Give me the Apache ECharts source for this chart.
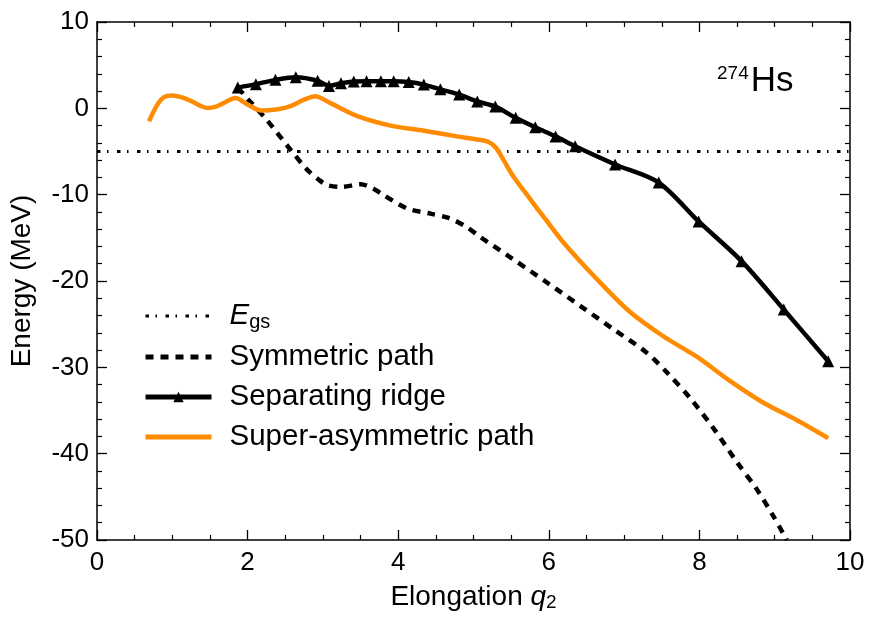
<!DOCTYPE html>
<html>
<head>
<meta charset="utf-8">
<script src="https://cdn.jsdelivr.net/npm/echarts@6/dist/echarts.min.js"></script>
<style>
html,body{margin:0;padding:0;background:#fff;}
#main{width:869px;height:619px;}
</style>
</head>
<body>
<div id="main"></div>
<script>
// ---- Data ----
var egsQ = [0, 10];
var egsE = [-5.0, -5.0];

var symQ = [1.87, 2.0, 2.26, 2.57, 2.79, 2.95, 3.06, 3.25, 3.5, 3.65, 3.77, 4.12, 4.43, 4.67, 4.9, 5.09, 5.53, 5.98, 6.42, 6.86, 7.3, 7.57, 7.88, 8.19, 8.5, 8.76, 8.98, 9.16];
var symE = [2.4, 1.1, -1.4, -4.8, -7.1, -8.3, -8.9, -9.1, -8.8, -9.2, -9.85, -11.6, -12.2, -12.7, -13.7, -14.9, -17.5, -20.2, -22.9, -25.6, -28.3, -30.6, -33.6, -37.1, -41.0, -44.1, -47.2, -50.0];

var ridgeQ = [1.87, 2.11, 2.37, 2.64, 2.93, 3.08, 3.24, 3.41, 3.58, 3.77, 3.94, 4.14, 4.34, 4.56, 4.81, 5.05, 5.29, 5.56, 5.82, 6.09, 6.35, 6.88, 7.46, 7.99, 8.56, 9.12, 9.71];
var ridgeE = [2.4, 2.8, 3.3, 3.6, 3.2, 2.6, 2.9, 3.1, 3.15, 3.15, 3.15, 3.05, 2.75, 2.2, 1.6, 0.8, 0.2, -1.1, -2.2, -3.25, -4.4, -6.5, -8.6, -13.1, -17.7, -23.3, -29.3];

var asymQ = [0.69, 0.8, 0.89, 1.0, 1.12, 1.25, 1.36, 1.47, 1.58, 1.69, 1.84, 2.0, 2.18, 2.4, 2.57, 2.75, 2.9, 3.1, 3.46, 3.9, 4.34, 4.78, 5.05, 5.2, 5.3, 5.4, 5.53, 5.76, 5.96, 6.2, 6.64, 7.08, 7.52, 7.97, 8.41, 8.85, 9.29, 9.71];
var asymE = [-1.5, 0.4, 1.3, 1.5, 1.3, 0.85, 0.35, 0.05, 0.2, 0.65, 1.2, 0.45, -0.25, -0.1, 0.25, 1.0, 1.4, 0.6, -0.9, -2.0, -2.6, -3.25, -3.6, -3.9, -4.6, -6.0, -7.9, -10.6, -12.9, -15.6, -19.8, -23.6, -26.4, -28.8, -31.6, -34.1, -36.1, -38.2];

var xTicks = [0, 2, 4, 6, 8, 10];
var yTicks = [10, 0, -10, -20, -30, -40, -50];

var seriesNames = ['Egs', 'Symmetric path', 'Separating ridge', 'Super-asymmetric path'];

function zip(a, b) { return a.map(function (v, i) { return [v, b[i]]; }); }

var FONT = '"Liberation Sans", Arial, Helvetica, sans-serif';
var TICK_FS = 26, NAME_FS = 28, LEG_FS = 29.5;

var tickCommon = {
  axisLine: { show: true, onZero: false, lineStyle: { color: '#000', width: 1.5 } },
  axisTick: { show: true, inside: true, length: 10, lineStyle: { color: '#000', width: 1.3 } },
  splitLine: { show: false }
};

function xAxisDef(pos, showLabel) {
  return Object.assign({
    type: 'value', position: pos, min: 0, max: 10, interval: 2,
    minorTick: { show: true, splitNumber: 4, length: 5, lineStyle: { color: '#000', width: 1.2 } },
    axisLabel: { show: showLabel, fontSize: TICK_FS, color: '#000', fontFamily: FONT, margin: 10,
      formatter: function (v) { return xTicks.indexOf(v) >= 0 ? String(v) : ''; } }
  }, tickCommon);
}
function yAxisDef(pos, showLabel) {
  return Object.assign({
    type: 'value', position: pos, min: -50, max: 10, interval: 10,
    minorTick: { show: true, splitNumber: 5, length: 5, lineStyle: { color: '#000', width: 1.2 } },
    axisLabel: { show: showLabel, fontSize: TICK_FS, color: '#000', fontFamily: FONT, margin: 8,
      formatter: function (v) { return yTicks.indexOf(v) >= 0 ? String(v).replace('\u2212', '-') : ''; } }
  }, tickCommon);
}

var xBottom = xAxisDef('bottom', true);
xBottom.name = '{n|Elongation }{q|q}{s|2}';
xBottom.nameLocation = 'middle';
xBottom.nameGap = 42;
xBottom.nameTextStyle = {
  color: '#000', fontFamily: FONT,
  rich: {
    n: { fontSize: NAME_FS, fontFamily: FONT, color: '#000' },
    q: { fontSize: NAME_FS, fontStyle: 'italic', fontFamily: FONT, color: '#000' },
    s: { fontSize: 19, fontFamily: FONT, color: '#000', padding: [11, 0, 0, 0] }
  }
};
var xTop = xAxisDef('top', false);

var yLeft = yAxisDef('left', true);
yLeft.name = 'Energy (MeV)';
yLeft.nameLocation = 'middle';
yLeft.nameGap = 61;
yLeft.nameTextStyle = { fontSize: NAME_FS, color: '#000', fontFamily: FONT };
var yRight = yAxisDef('right', false);

var chart = echarts.init(document.getElementById('main'), null, { renderer: 'canvas' });
chart.setOption({
  animation: false,
  backgroundColor: '#fff',
  grid: { left: 97, right: 19, top: 22, bottom: 79, containLabel: false },
  xAxis: [xBottom, xTop],
  yAxis: [yLeft, yRight],
  legend: {
    orient: 'vertical', left: 138, top: 296,
    itemWidth: 66, itemHeight: 13, itemGap: 10,
    data: [
      { name: 'Egs', itemStyle: { opacity: 0 }, lineStyle: { width: 3 } },
      { name: 'Symmetric path', itemStyle: { opacity: 0 }, lineStyle: { width: 5 } },
      { name: 'Separating ridge', lineStyle: { width: 5 } },
      { name: 'Super-asymmetric path', itemStyle: { opacity: 0 }, lineStyle: { width: 5 } }
    ],
    formatter: function (name) {
      if (name === 'Egs') return '{e|E}{s|gs}';
      return '{n|' + name + '}';
    },
    textStyle: {
      fontFamily: FONT, color: '#000', fontSize: LEG_FS,
      rich: {
        e: { fontSize: LEG_FS, fontStyle: 'italic', fontFamily: FONT, color: '#000', padding: [0, 0, 0, 13] },
        s: { fontSize: 20, fontFamily: FONT, color: '#000', padding: [12, 0, 0, 0] },
        n: { fontSize: LEG_FS, fontFamily: FONT, color: '#000', padding: [0, 0, 0, 13] }
      }
    }
  },
  graphic: [{
    type: 'text', left: 717, top: 64,
    style: {
      text: '{a|274}{b|Hs}',
      rich: {
        a: { fontSize: 19, fontFamily: FONT, fill: '#000', padding: [0, 2, 15, 0] },
        b: { fontSize: 35, fontFamily: FONT, fill: '#000' }
      }
    }
  }],
  series: [
    {
      name: 'Egs', type: 'line', data: zip(egsQ, egsE), showSymbol: false, symbol: 'none',
      lineStyle: { color: '#000', width: 3, type: [3.5, 6.5, 1.5, 8.5] },
      itemStyle: { color: '#000' }, z: 2
    },
    {
      name: 'Symmetric path', type: 'line', data: zip(symQ, symE), symbol: 'none', smooth: 0.3,
      lineStyle: { color: '#000', width: 4.5, type: [8, 7] }, itemStyle: { color: '#000' }, z: 3
    },
    {
      name: 'Super-asymmetric path', type: 'line', data: zip(asymQ, asymE), symbol: 'none', smooth: 0.3,
      lineStyle: { color: '#ff8c00', width: 4.5 }, itemStyle: { color: '#ff8c00' }, z: 4
    },
    {
      name: 'Separating ridge', type: 'line', data: zip(ridgeQ, ridgeE), smooth: 0.3,
      symbol: 'triangle', symbolSize: 12, showSymbol: true,
      lineStyle: { color: '#000', width: 4.5 }, itemStyle: { color: '#000' }, z: 5
    }
  ]
});
</script>
</body>
</html>
